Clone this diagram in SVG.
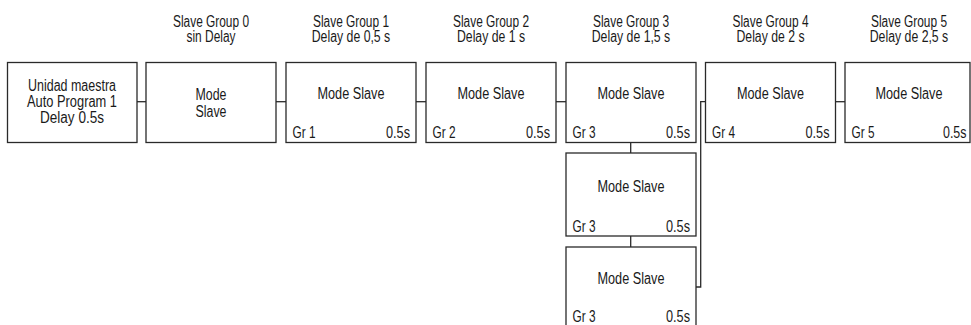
<svg xmlns="http://www.w3.org/2000/svg" width="971" height="325" viewBox="0 0 971 325">
<style>
rect.b{fill:#fff;stroke:#2a2a2a;stroke-width:1.3}
text{font-family:"Liberation Sans",Arial,sans-serif;font-size:15.8px;fill:#1a1a1a}
.c{text-anchor:middle}
.e{text-anchor:end}
#connectors path{fill:none;stroke:#2a2a2a;stroke-width:1.3}
</style>
<rect width="971" height="325" fill="#fff"/>
<g id="connectors">
<path d="M137,101.7H146"/>
<path d="M276,101.7H286"/>
<path d="M416,101.7H426"/>
<path d="M556,101.7H566"/>
<path d="M835.5,101.7H845"/>
<path d="M630.7,142.5V153"/>
<path d="M630.7,236V247"/>
<path d="M696,287H700.7V101.7H705.5"/>
</g>
<g id="master">
<rect class="b" x="7.5" y="62.5" width="129.5" height="80"/>
<text class="c" x="72" y="90.7" textLength="88" lengthAdjust="spacingAndGlyphs">Unidad maestra</text>
<text class="c" x="72" y="106.5" textLength="90" lengthAdjust="spacingAndGlyphs">Auto Program 1</text>
<text class="c" x="72" y="122.5" textLength="64" lengthAdjust="spacingAndGlyphs">Delay 0.5s</text>
</g>
<g id="group0">
<text class="c" x="211" y="26.5" textLength="76" lengthAdjust="spacingAndGlyphs">Slave Group 0</text>
<text class="c" x="211" y="42" textLength="49" lengthAdjust="spacingAndGlyphs">sin Delay</text>
<rect class="b" x="146" y="62.5" width="130" height="80"/>
<text class="c" x="211" y="100" textLength="31" lengthAdjust="spacingAndGlyphs">Mode</text>
<text class="c" x="211" y="116.5" textLength="31" lengthAdjust="spacingAndGlyphs">Slave</text>
</g>
<g id="group1">
<text class="c" x="351" y="26.5" textLength="76" lengthAdjust="spacingAndGlyphs">Slave Group 1</text>
<text class="c" x="351" y="42" textLength="78.5" lengthAdjust="spacingAndGlyphs">Delay de 0,5 s</text>
<rect class="b" x="286" y="62.5" width="130" height="80"/>
<text class="c" x="351" y="99" textLength="67" lengthAdjust="spacingAndGlyphs">Mode Slave</text>
<text x="292.5" y="137.5" textLength="23" lengthAdjust="spacingAndGlyphs">Gr 1</text>
<text class="e" x="410" y="137.5" textLength="24" lengthAdjust="spacingAndGlyphs">0.5s</text>
</g>
<g id="group2">
<text class="c" x="491" y="26.5" textLength="76" lengthAdjust="spacingAndGlyphs">Slave Group 2</text>
<text class="c" x="491" y="42" textLength="68" lengthAdjust="spacingAndGlyphs">Delay de 1 s</text>
<rect class="b" x="426" y="62.5" width="130" height="80"/>
<text class="c" x="491" y="99" textLength="67" lengthAdjust="spacingAndGlyphs">Mode Slave</text>
<text x="432.5" y="137.5" textLength="23" lengthAdjust="spacingAndGlyphs">Gr 2</text>
<text class="e" x="550" y="137.5" textLength="24" lengthAdjust="spacingAndGlyphs">0.5s</text>
</g>
<g id="group3">
<text class="c" x="631" y="26.5" textLength="76" lengthAdjust="spacingAndGlyphs">Slave Group 3</text>
<text class="c" x="631" y="42" textLength="78.5" lengthAdjust="spacingAndGlyphs">Delay de 1,5 s</text>
<rect class="b" x="566" y="62.5" width="130" height="80"/>
<text class="c" x="631" y="99" textLength="67" lengthAdjust="spacingAndGlyphs">Mode Slave</text>
<text x="572.5" y="137.5" textLength="23" lengthAdjust="spacingAndGlyphs">Gr 3</text>
<text class="e" x="690" y="137.5" textLength="24" lengthAdjust="spacingAndGlyphs">0.5s</text>
</g>
<g id="group3b">
<rect class="b" x="566" y="153" width="130" height="83"/>
<text class="c" x="631" y="192" textLength="67" lengthAdjust="spacingAndGlyphs">Mode Slave</text>
<text x="572.5" y="231.5" textLength="23" lengthAdjust="spacingAndGlyphs">Gr 3</text>
<text class="e" x="690" y="231.5" textLength="24" lengthAdjust="spacingAndGlyphs">0.5s</text>
</g>
<g id="group3c">
<rect class="b" x="566" y="247" width="130" height="83"/>
<text class="c" x="631" y="284" textLength="67" lengthAdjust="spacingAndGlyphs">Mode Slave</text>
<text x="572.5" y="322" textLength="23" lengthAdjust="spacingAndGlyphs">Gr 3</text>
<text class="e" x="690" y="322" textLength="24" lengthAdjust="spacingAndGlyphs">0.5s</text>
</g>
<g id="group4">
<text class="c" x="770.5" y="26.5" textLength="76" lengthAdjust="spacingAndGlyphs">Slave Group 4</text>
<text class="c" x="770.5" y="42" textLength="68" lengthAdjust="spacingAndGlyphs">Delay de 2 s</text>
<rect class="b" x="705.5" y="62.5" width="130" height="80"/>
<text class="c" x="770.5" y="99" textLength="67" lengthAdjust="spacingAndGlyphs">Mode Slave</text>
<text x="712" y="137.5" textLength="23" lengthAdjust="spacingAndGlyphs">Gr 4</text>
<text class="e" x="829.5" y="137.5" textLength="24" lengthAdjust="spacingAndGlyphs">0.5s</text>
</g>
<g id="group5">
<text class="c" x="909" y="26.5" textLength="76" lengthAdjust="spacingAndGlyphs">Slave Group 5</text>
<text class="c" x="909" y="42" textLength="78.5" lengthAdjust="spacingAndGlyphs">Delay de 2,5 s</text>
<rect class="b" x="845" y="62.5" width="125" height="80"/>
<text class="c" x="909" y="99" textLength="67" lengthAdjust="spacingAndGlyphs">Mode Slave</text>
<text x="851.5" y="137.5" textLength="23" lengthAdjust="spacingAndGlyphs">Gr 5</text>
<text class="e" x="966.5" y="137.5" textLength="23.5" lengthAdjust="spacingAndGlyphs">0.5s</text>
</g>
</svg>
